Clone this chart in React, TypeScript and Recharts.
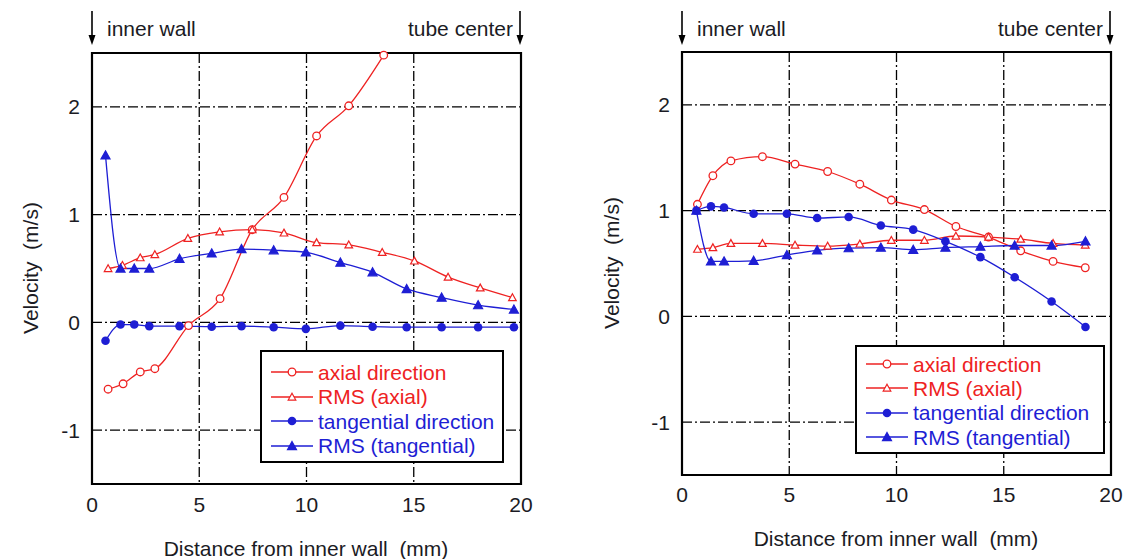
import React from 'react';
import { LineChart, Line, XAxis, YAxis, CartesianGrid, ReferenceArea, Legend } from 'recharts';

const RED = '#ee2222';
const BLUE = '#1e1ed4';
const INK = '#1b1b24';
const FONT = '"Liberation Sans", Arial, Helvetica, sans-serif';

const xTicks = [0, 5, 10, 15, 20];
const yTicks = [-1, 0, 1, 2];
const yDomain: [number, number] = [-1.5, 2.5];

const seriesNames = ['axial direction', 'RMS (axial)', 'tangential direction', 'RMS (tangential)'];

// left panel
const leftAxialX = [0.75, 1.45, 2.25, 2.93, 4.5, 5.97, 7.47, 8.95, 10.47, 11.97, 13.6];
const leftAxialV = [-0.62, -0.57, -0.46, -0.43, -0.03, 0.22, 0.86, 1.16, 1.73, 2.01, 2.48];
const leftRmsAxialX = [0.75, 1.42, 2.25, 2.93, 4.47, 5.95, 7.47, 8.95, 10.47, 11.97, 13.53, 15.03, 16.6, 18.1, 19.6];
const leftRmsAxialV = [0.5, 0.53, 0.6, 0.63, 0.78, 0.84, 0.86, 0.83, 0.74, 0.72, 0.65, 0.57, 0.42, 0.32, 0.23];
const leftTanX = [0.63, 1.33, 1.97, 2.67, 4.08, 5.58, 6.97, 8.47, 9.97, 11.58, 13.08, 14.67, 16.3, 18.0, 19.67];
const leftTanV = [-0.17, -0.02, -0.02, -0.035, -0.035, -0.04, -0.035, -0.045, -0.06, -0.03, -0.04, -0.045, -0.045, -0.045, -0.045];
const leftRmsTanV = [1.55, 0.5, 0.5, 0.5, 0.59, 0.64, 0.68, 0.67, 0.65, 0.555, 0.465, 0.31, 0.23, 0.16, 0.12];

// right panel
const rightAxialX = [0.72, 1.44, 2.28, 3.75, 5.27, 6.79, 8.29, 9.76, 11.3, 12.77, 14.29, 15.79, 17.3, 18.8];
const rightAxialV = [1.06, 1.33, 1.47, 1.51, 1.44, 1.37, 1.25, 1.1, 1.01, 0.85, 0.75, 0.62, 0.52, 0.46];
const rightRmsAxialV = [0.635, 0.65, 0.69, 0.69, 0.675, 0.665, 0.685, 0.72, 0.72, 0.76, 0.75, 0.73, 0.69, 0.675];
const rightTanX = [0.67, 1.35, 1.96, 3.34, 4.89, 6.3, 7.77, 9.27, 10.78, 12.28, 13.91, 15.51, 17.23, 18.81];
const rightTanV = [1.0, 1.04, 1.03, 0.97, 0.97, 0.93, 0.94, 0.86, 0.82, 0.71, 0.56, 0.37, 0.14, -0.1];
const rightRmsTanV = [1.0, 0.52, 0.52, 0.525, 0.58, 0.625, 0.645, 0.65, 0.63, 0.65, 0.66, 0.67, 0.67, 0.71];

const zip = (xs: number[], vs: number[]) => xs.map((x, i) => ({ x, v: vs[i] }));

type Kind = 'oc' | 'ot' | 'fc' | 'ft';
const kinds: Kind[] = ['oc', 'ot', 'fc', 'ft'];
const colors = [RED, RED, BLUE, BLUE];

function Marker({ kind, color, cx, cy }: { kind: Kind; color: string; cx: number; cy: number }) {
  if (kind === 'oc') return <circle cx={cx} cy={cy} r={3.8} fill="#fff" stroke={color} strokeWidth={1.3} />;
  if (kind === 'fc') return <circle cx={cx} cy={cy} r={4.3} fill={color} />;
  const s = kind === 'ot' ? 3.8 : 4.5;
  const d = `M${cx},${cy - s}L${cx + s},${cy + s * 0.8}L${cx - s},${cy + s * 0.8}Z`;
  return <path d={d} fill={kind === 'ot' ? '#fff' : color} stroke={color} strokeWidth={1.2} />;
}

const dotFor = (kind: Kind, color: string) => (p: any) => (
  <Marker key={`d${p.index}`} kind={kind} color={color} cx={p.cx} cy={p.cy} />
);

type Box = { x: number; y: number; w: number; h: number; padTop: number; row: number };

const makeLegend = (box: Box) => (props: any) => {
  // keep the order the series were drawn in, not alphabetical
  const payload = [...(props.payload || [])].sort(
    (a: any, b: any) => seriesNames.indexOf(a.value) - seriesNames.indexOf(b.value),
  );
  return (
    <div
      style={{
        boxSizing: 'border-box', width: box.w, height: box.h, border: '2px solid #000',
        background: '#fff', paddingTop: box.padTop, paddingLeft: 9, fontFamily: FONT, fontSize: 21,
      }}
    >
      {payload.map((e: any, i: number) => {
        const k = seriesNames.indexOf(e.value);
        return (
          <div key={i} style={{ display: 'flex', alignItems: 'center', height: box.row, color: colors[k] }}>
            <svg width={42} height={14} style={{ marginRight: 5, flex: 'none' }}>
              <line x1={0} x2={42} y1={7} y2={7} stroke={colors[k]} strokeWidth={1.4} />
              <Marker kind={kinds[k]} color={colors[k]} cx={21} cy={7} />
            </svg>
            <span style={{ whiteSpace: 'nowrap', lineHeight: 1 }}>{e.value}</span>
          </div>
        );
      })}
    </div>
  );
};

type PanelProps = {
  left: number; width: number; x0: number; x1: number; y0: number; y1: number;
  tickGap: number; data: { x: number; v: number }[][]; legend: Box;
};

const YW = 60;
const XH = 40;

function Panel({ left, width, x0, x1, y0, y1, tickGap, data, legend }: PanelProps) {
  const margin = { top: y0, bottom: 559 - y1 - XH, left: x0 - left - YW, right: left + width - x1 };
  const tick = { fontSize: 21, fill: INK, fontFamily: FONT };
  return (
    <div style={{ position: 'absolute', left, top: 0 }}>
      <LineChart width={width} height={559} margin={margin} style={{ fontFamily: FONT }}>
        <CartesianGrid stroke="#000" strokeWidth={1.3} strokeDasharray="10 3 2 3" />
        <XAxis type="number" dataKey="x" domain={[0, 20]} ticks={xTicks} height={XH}
          tickLine={false} axisLine={false} tickSize={0} tickMargin={tickGap} tick={tick} />
        <YAxis type="number" domain={yDomain} ticks={yTicks} width={YW}
          tickLine={false} axisLine={false} tickSize={0} tickMargin={12} tick={tick} />
        <ReferenceArea x1={0} x2={20} y1={yDomain[0]} y2={yDomain[1]} fill="none"
          stroke="#000" strokeWidth={2.2} ifOverflow="visible" />
        {data.map((d, i) => (
          <Line key={seriesNames[i]} data={d} dataKey="v" name={seriesNames[i]} type="monotone"
            stroke={colors[i]} strokeWidth={1.3} dot={dotFor(kinds[i], colors[i])}
            activeDot={false} isAnimationActive={false} />
        ))}
        <Legend layout="vertical" align="center" verticalAlign="middle"
          content={makeLegend(legend)}
          wrapperStyle={{ left: legend.x - left, top: legend.y, width: legend.w, height: legend.h }} />
      </LineChart>
    </div>
  );
}

const text: React.CSSProperties = {
  position: 'absolute', fontFamily: FONT, fontSize: 21, color: INK, whiteSpace: 'pre', lineHeight: 1,
};

function Arrow({ x }: { x: number }) {
  return (
    <g>
      <line x1={x} x2={x} y1={11} y2={40} stroke="#000" strokeWidth={1.6} />
      <path d={`M${x - 3.5},35L${x},45L${x + 3.5},35Z`} fill="#000" />
    </g>
  );
}

function Header({ l, r }: { l: number; r: number }) {
  return (
    <>
      <div style={{ ...text, left: l + 15, top: 18 }}>inner wall</div>
      <div style={{ ...text, left: r - 7, top: 18, transform: 'translateX(-100%)' }}>tube center</div>
    </>
  );
}

export default function App() {
  const leftData = [
    zip(leftAxialX, leftAxialV),
    zip(leftRmsAxialX, leftRmsAxialV),
    zip(leftTanX, leftTanV),
    zip(leftTanX, leftRmsTanV),
  ];
  const rightData = [
    zip(rightAxialX, rightAxialV),
    zip(rightAxialX, rightRmsAxialV),
    zip(rightTanX, rightTanV),
    zip(rightTanX, rightRmsTanV),
  ];
  return (
    <div style={{ position: 'absolute', left: 0, top: 0, width: 1128, height: 559, background: '#fff', overflow: 'hidden' }}>
      <Panel left={0} width={560} x0={92} x1={521} y0={53} y1={484} tickGap={13} data={leftData}
        legend={{ x: 260, y: 350, w: 244, h: 113, padTop: 8, row: 24.5 }} />
      <Panel left={570} width={558} x0={682} x1={1111} y0={52} y1={475} tickGap={12} data={rightData}
        legend={{ x: 855, y: 345, w: 250, h: 109, padTop: 5, row: 24.3 }} />

      <svg width={1128} height={60} style={{ position: 'absolute', left: 0, top: 0 }}>
        <Arrow x={92} />
        <Arrow x={520} />
        <Arrow x={682} />
        <Arrow x={1110} />
      </svg>
      <Header l={92} r={520} />
      <Header l={682} r={1110} />

      <div style={{ ...text, left: 306, top: 548, transform: 'translate(-50%, -50%)' }}>Distance from inner wall  (mm)</div>
      <div style={{ ...text, left: 896, top: 538, transform: 'translate(-50%, -50%)' }}>Distance from inner wall  (mm)</div>
      <div style={{ ...text, left: 30, top: 268, transform: 'translate(-50%, -50%) rotate(-90deg)' }}>Velocity  (m/s)</div>
      <div style={{ ...text, left: 611, top: 263, transform: 'translate(-50%, -50%) rotate(-90deg)' }}>Velocity  (m/s)</div>
    </div>
  );
}
